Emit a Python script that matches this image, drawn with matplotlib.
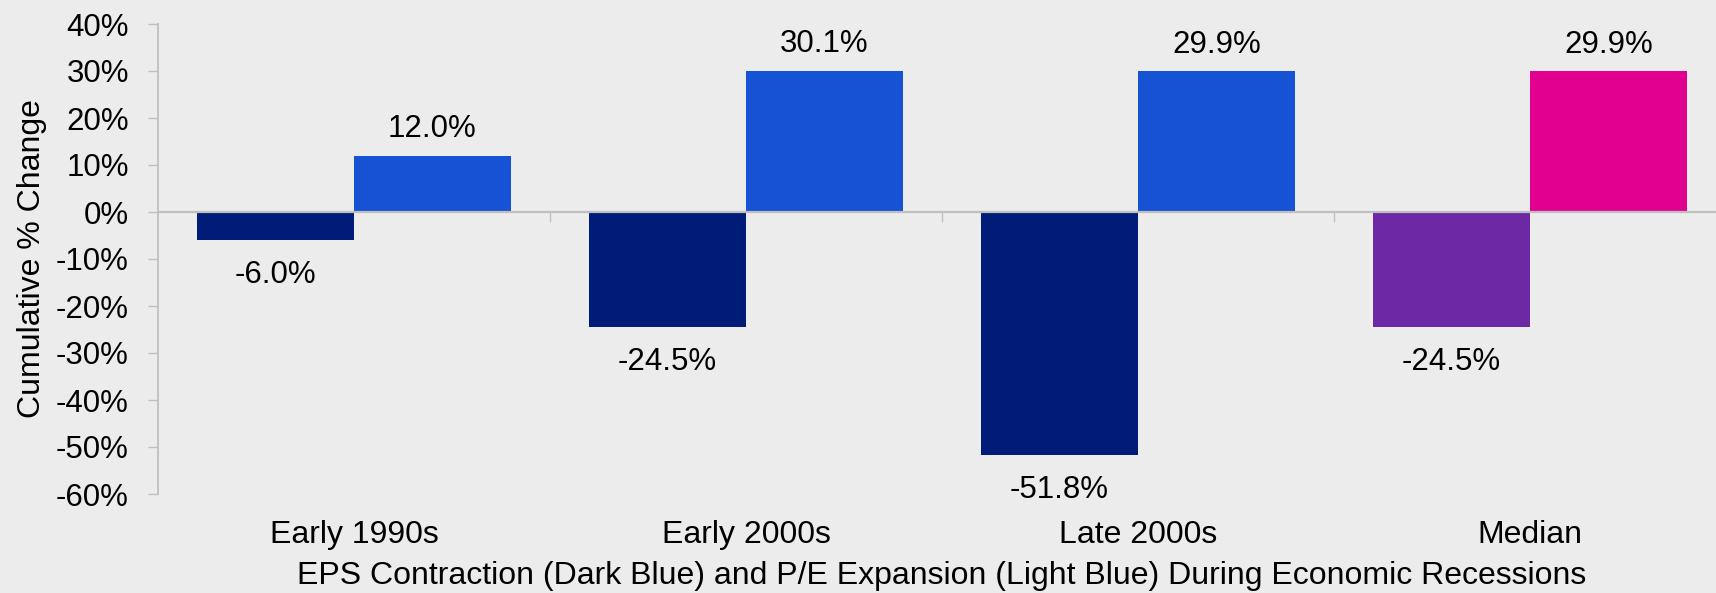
import matplotlib
matplotlib.use("Agg")
import matplotlib.pyplot as plt
from matplotlib.ticker import FuncFormatter
import numpy as np

# ---- data ----
categories = ["Early 1990s", "Early 2000s", "Late 2000s", "Median"]
eps_change = [-6.0, -24.5, -51.8, -24.5]   # EPS contraction (%)
pe_change = [12.0, 30.1, 29.9, 29.9]       # P/E expansion (%)
eps_colors = ["#001B78", "#001B78", "#001B78", "#6D28A6"]
pe_colors = ["#1652D4", "#1652D4", "#1652D4", "#E10090"]
y_ticks = [40, 30, 20, 10, 0, -10, -20, -30, -40, -50, -60]
y_label = "Cumulative % Change"
x_label = "EPS Contraction (Dark Blue) and P/E Expansion (Light Blue) During Economic Recessions"

plt.rcParams["font.family"] = ["Liberation Sans", "DejaVu Sans"]
BG = "#ECECEC"
GRAY = "#BFBFBF"
FS = 23
FS_VAL = 22.5

fig = plt.figure(figsize=(17.16, 5.93), dpi=100, facecolor=BG)
ax = fig.add_axes([158 / 1716, 99 / 593, 1568 / 1716, 470 / 593], facecolor=BG)

x = np.arange(len(categories))
w = 0.4
b1 = ax.bar(x - w / 2, eps_change, width=w, color=eps_colors, zorder=2)
b2 = ax.bar(x + w / 2, pe_change, width=w, color=pe_colors, zorder=2)

for rect, v in zip(list(b1) + list(b2), eps_change + pe_change):
    cx = rect.get_x() + rect.get_width() / 2
    off = 13.5 if v >= 0 else -30.6
    ax.annotate(f"{v:.1f}%", (cx, v), xytext=(0, off), textcoords="offset points",
                ha="center", va="baseline", fontsize=FS_VAL, color="black")

ax.set_xlim(-0.5, len(categories) - 0.5)
ax.set_ylim(min(y_ticks), max(y_ticks))
ax.set_yticks(y_ticks)
ax.yaxis.set_major_formatter(FuncFormatter(lambda v, p: f"{v:.0f}%"))
ax.tick_params(axis="y", length=7.2, width=1.0, color=GRAY, pad=13.7, labelsize=FS_VAL)

ax.set_xticks(x)
ax.set_xticklabels(categories)
ax.tick_params(axis="x", length=0, pad=18.5, labelsize=FS)

for s in ["top", "right", "bottom"]:
    ax.spines[s].set_visible(False)
ax.spines["left"].set_color(GRAY)
ax.spines["left"].set_linewidth(1.3)

# zero line with group separator ticks
zero_frac = (0 - min(y_ticks)) / (max(y_ticks) - min(y_ticks))
sec = ax.secondary_xaxis(zero_frac)
sec.set_alignment("bottom")
sec.set_xticks(x[:-1] + 0.5)
sec.set_xticklabels([])
sec.tick_params(axis="x", length=7.2, width=1.0, color=GRAY, direction="out")
sec.spines["bottom"].set_color(GRAY)
sec.spines["bottom"].set_linewidth(1.6)
sec.set_zorder(3)

ax.set_xlabel(x_label, fontsize=FS)
ax.xaxis.label.set_va("baseline")
ax.xaxis.set_label_coords(0.5, (494 - 584) / 470)
ax.set_ylabel(y_label, fontsize=FS)
ax.yaxis.set_label_coords(-111 / 1568, 0.5)

fig.savefig("out.png", dpi=100, facecolor=BG)
